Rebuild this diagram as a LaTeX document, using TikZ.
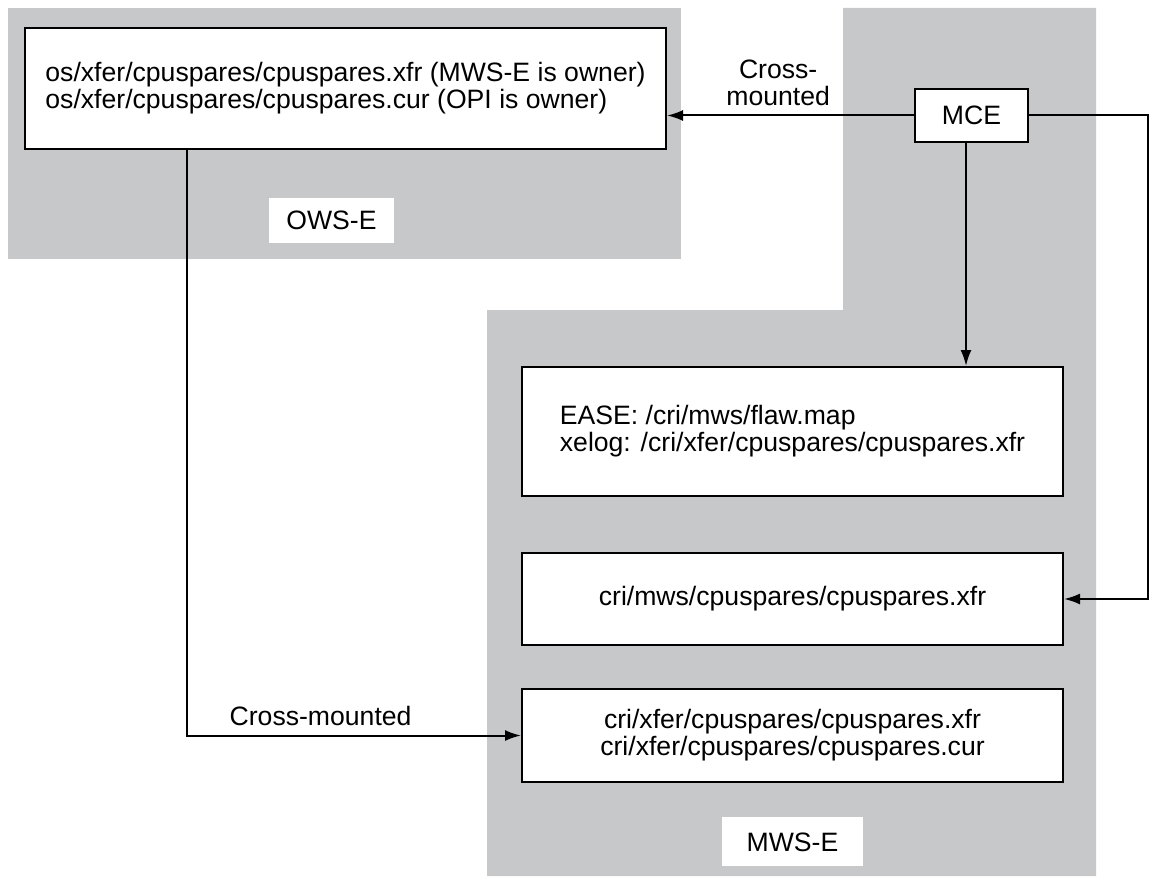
\documentclass[tikz,border=0pt]{standalone}
\usepackage{fontspec}
\setmainfont{Liberation Sans}
\usetikzlibrary{arrows.meta,positioning,calc}
\definecolor{hostgray}{RGB}{199,200,202}

\begin{document}
\begin{tikzpicture}[
    %–––– GLOBAL STYLE TWEAKS ––––
    x=0.5pt, y=-0.5pt,                               % one unit = one pixel of the sketch
    font=\fontsize{13.3}{11.5}\selectfont,
    >={Latex[length=8pt,width=5.5pt]},
    filebox/.style = {rectangle, draw=black, line width=1pt, fill=white,
                      align=left, inner sep=0pt,
                      minimum width=270.5pt},        % boxes inside MWS-E
    hostlabel/.style = {rectangle, fill=white, inner sep=0pt},
    arrow/.style = {->, line width=1pt},
]
\useasboundingbox (0,0) rectangle (1154,882);

%–––– HOST AREAS ––––
\fill[hostgray] (8,8) rectangle (681,259);
\fill[hostgray] (843,8) -- (1096,8) -- (1096,876) -- (487,876)
                -- (487,310) -- (843,310) -- cycle;

%–––– OWS-E ––––
\node (osfiles)  [filebox, minimum width=320.5pt, minimum height=60.5pt] at (345.5,88.5)
                 {os/xfer/cpuspares/cpuspares.xfr (MWS-E is owner)\\os/xfer/cpuspares/cpuspares.cur (OPI is owner)};

\node (owslabel) [hostlabel, minimum width=62.5pt, minimum height=22.5pt] at (331.5,220.5) {OWS-E};

%–––– MCE ––––
\node (mce)      [filebox, align=center, minimum width=56.5pt, minimum height=26.5pt] at (971.5,115.5) {MCE};

%–––– MWS-E ––––
\node (ease)     [filebox, minimum height=64.5pt] at (792.5,431.5)
                 {EASE: /cri/mws/flaw.map\\xelog: /cri/xfer/cpuspares/cpuspares.xfr};

\node (mwsfile)  [filebox, minimum height=46pt, below=27.5pt of ease]
                 {cri/mws/cpuspares/cpuspares.xfr};

\node (crifiles) [filebox, align=center, minimum height=46.5pt, below=21pt of mwsfile]
                 {cri/xfer/cpuspares/cpuspares.xfr\\cri/xfer/cpuspares/cpuspares.cur};

\node (mwslabel) [hostlabel, minimum width=70.5pt, minimum height=24.5pt, below=17pt of crifiles] {MWS-E};

%–––– ARROWS ––––
\coordinate (mceturn) at (1148,115.5);
\coordinate (osdrop)  at (187,149);

\draw[arrow] (mce.west) -- (mce.west -| osfiles.east)
      node (crosstop) [pos=0.55, above=1pt, align=center,
                       font=\fontsize{13.3}{13.5}\selectfont] {Cross-\\mounted};
\draw[arrow] ([xshift=-2.75pt]mce.south) -- ([xshift=-2.75pt]mce.south |- ease.north);
\draw[arrow] (mce.east) -- (mceturn) |- (mwsfile.east);
\draw[arrow] (osdrop) |- (crifiles.west)
      node (crosslow) [pos=0.7, above=1pt] {Cross-mounted};
\end{tikzpicture}
\end{document}
